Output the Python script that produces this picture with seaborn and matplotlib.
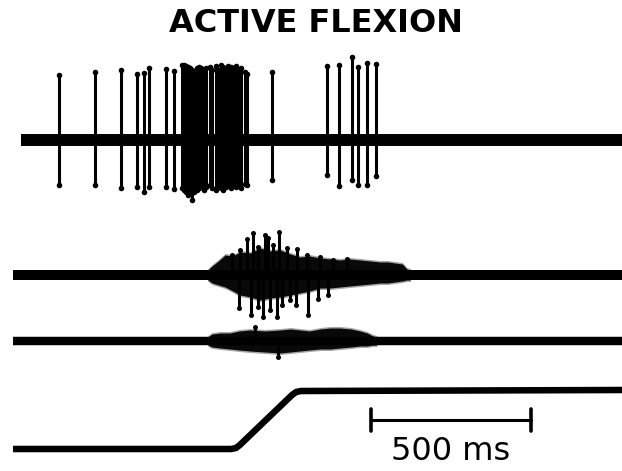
import matplotlib
matplotlib.use("Agg")
import matplotlib.pyplot as plt
import numpy as np
import pandas as pd
import seaborn as sns

# ---------------------------------------------------------------- data
TITLE = "ACTIVE FLEXION"
SCALE_LABEL = "500 ms"
SCALE_MS = 500
TRACE_END = 1910  # ms

# Single-unit record: spike time (ms), peak above and trough below baseline
unit_times = [147, 259, 341, 391, 413, 428, 481, 506,
              531, 538, 544, 550, 556, 563, 569, 578, 584, 591, 600, 606,
              619, 625, 638, 644, 653, 659, 669, 675, 684, 691, 700, 709,
              716, 728, 734,
              813, 984, 1022, 1063, 1081, 1109, 1138]
unit_up = [65, 68, 70, 66, 67, 72, 71, 69,
           75, 75, 74, 73, 72, 70, 68, 72, 73, 72, 70, 72,
           73, 70, 74, 70, 75, 73, 72, 74, 73, 72, 74, 70,
           72, 68, 66,
           68, 74, 75, 83, 73, 77, 76]
unit_down = [45, 45, 48, 47, 52, 47, 47, 49,
             48, 50, 52, 55, 52, 60, 52, 50, 48, 46, 50, 47,
             45, 48, 50, 46, 48, 50, 47, 44, 48, 45, 47, 46,
             48, 44, 45,
             40, 35, 46, 40, 45, 45, 36]

# EMG 1: envelope of the interference pattern
emg1_t = [612, 625, 645, 666, 690, 713, 745, 775, 805, 838, 870, 900, 930,
          963, 995, 1025, 1055, 1088, 1120, 1150, 1175, 1197, 1220, 1234, 1245]
emg1_up = [5, 9, 14, 20, 19, 23, 22, 27, 24, 25, 21, 18, 19,
           17, 16, 15, 16, 15, 14, 13, 13, 12, 11, 6, 5]
emg1_lo = [5, 8, 10, 12, 16, 20, 22, 25, 23, 22, 20, 18, 16,
           13, 13, 12, 11, 10, 9, 8, 8, 7, 6, 5, 5]
# EMG 1: large individual potentials
emg1_peak_t = [688, 713, 734, 753, 769, 791, 800, 816, 834, 859, 891, 922, 963, 1003, 1047]
emg1_peak = [20, 25, 36, 42, 28, 40, 37, 30, 43, 27, 26, 20, 18, 15, 16]
emg1_trough_t = [709, 747, 769, 784, 806, 828, 844, 869, 888, 925, 956, 988]
emg1_trough = [33, 40, 32, 42, 35, 42, 30, 25, 30, 40, 24, 20]

# EMG 2: envelope
emg2_t = [612, 625, 650, 681, 710, 744, 790, 838, 870, 900, 930, 963,
          995, 1025, 1060, 1088, 1110, 1128, 1140]
emg2_up = [4, 7, 8, 8, 10, 11, 10, 11, 12, 11, 10, 12,
           13, 13, 12, 10, 8, 5, 4]
emg2_lo = [4, 6, 7, 8, 9, 10, 11, 12, 11, 10, 9, 8,
           8, 7, 6, 5, 5, 4, 4]
emg2_peak_t = [759]
emg2_peak = [14]
emg2_trough_t = [831]
emg2_trough = [16]

# Joint position
pos_t = [3, 685, 700, 712, 875, 888, 903, TRACE_END]
pos_val = [0, 0, 1, 4, 54, 57, 58, 59]

# ---------------------------------------------------------------- layout
sns.set_theme(style="white")
plt.rcParams["font.family"] = ["DejaVu Sans"]

fig = plt.figure(figsize=(6.22, 4.71), dpi=100)
ax = fig.add_axes([0, 0, 1, 1])
ax.set_xlim(-37.5, 1906.25)
ax.set_ylim(0, 471)
ax.axis("off")

BASE_UNIT, BASE_EMG1, BASE_EMG2, BASE_POS = 331, 196, 130, 22
K = "black"


def baseline(t0, y, lw):
    df = pd.DataFrame({"t": [t0, TRACE_END], "v": [y, y]})
    sns.lineplot(data=df, x="t", y="v", ax=ax, color=K, lw=lw,
                 solid_capstyle="butt", legend=False)


def spikes(times, amp, base, sign, lw, ms):
    times = np.asarray(times, float)
    tips = base + sign * np.asarray(amp, float)
    ax.vlines(times, base, tips, color=K, lw=lw, capstyle="round")
    ax.plot(times, tips, "o", color=K, ms=ms, mec="none")


# single-unit trace
baseline(28, BASE_UNIT, 8.6)
spikes(unit_times, unit_up, BASE_UNIT, +1, 2.2, 4.0)
spikes(unit_times, unit_down, BASE_UNIT, -1, 2.2, 4.0)

# EMG traces
for t, up, lo, base, lw in [(emg1_t, emg1_up, emg1_lo, BASE_EMG1, 7.2),
                            (emg2_t, emg2_up, emg2_lo, BASE_EMG2, 6.1)]:
    baseline(3, base, lw)
    t = np.asarray(t, float)
    ax.fill_between(t, base + np.asarray(up) + 1.5, base - np.asarray(lo) - 1.5,
                    color=K, alpha=0.35, lw=0)
    ax.fill_between(t, base + np.asarray(up), base - np.asarray(lo),
                    color=K, alpha=0.95, lw=0)

spikes(emg1_peak_t, emg1_peak, BASE_EMG1, +1, 2.2, 3.6)
spikes(emg1_trough_t, emg1_trough, BASE_EMG1, -1, 2.2, 3.6)
spikes(emg2_peak_t, emg2_peak, BASE_EMG2, +1, 2.2, 3.6)
spikes(emg2_trough_t, emg2_trough, BASE_EMG2, -1, 2.2, 3.6)

# joint position
pos_df = pd.DataFrame({"t": pos_t, "v": np.asarray(pos_val) + BASE_POS})
sns.lineplot(data=pos_df, x="t", y="v", ax=ax, color=K, lw=4.7, sort=False,
             solid_capstyle="butt", solid_joinstyle="round", legend=False)

# scale bar
bar_x0, bar_y = 1122, 51
ax.plot([bar_x0, bar_x0 + SCALE_MS], [bar_y, bar_y], color=K, lw=2.2)
ax.vlines([bar_x0, bar_x0 + SCALE_MS], bar_y - 11, bar_y + 11, color=K, lw=2.6,
          capstyle="round")
ax.text(bar_x0 + SCALE_MS / 2, 19, SCALE_LABEL, ha="center", va="center",
        fontsize=23, color=K)

ax.set_xlabel("")
ax.set_ylabel("")
fig.text(0.508, 1 - 24 / 471, TITLE, ha="center", va="center",
         fontsize=23, fontweight="bold", color=K)

fig.savefig("out.png", dpi=100)
